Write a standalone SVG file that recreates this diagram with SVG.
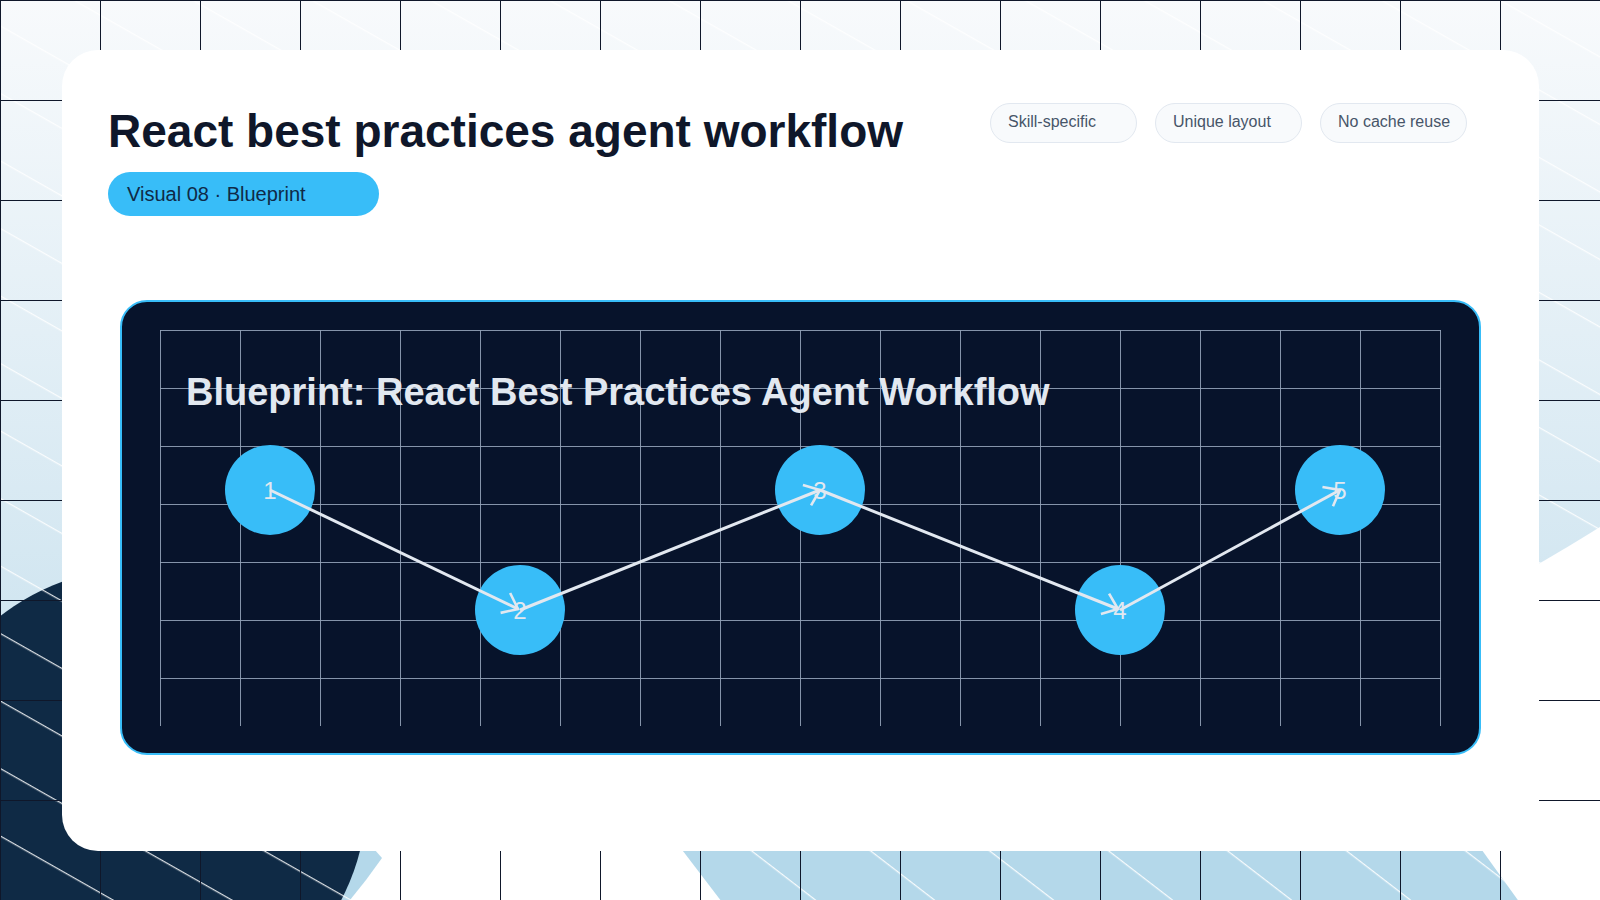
<svg xmlns="http://www.w3.org/2000/svg" width="1600" height="900" viewBox="0 0 1600 900">
  <defs>
    <linearGradient id="bgGrad" gradientUnits="userSpaceOnUse" x1="0" y1="0" x2="0" y2="820">
      <stop offset="0" stop-color="#f8fafc"/>
      <stop offset="1" stop-color="#c4dfed"/>
    </linearGradient>
    <pattern id="diag" patternUnits="userSpaceOnUse" width="200" height="58.7" patternTransform="translate(0,25) rotate(29.6)">
      <line x1="0" y1="0.6" x2="200" y2="0.6" stroke="#ffffff" stroke-width="1.2" stroke-opacity="0.85"/>
    </pattern>
    <pattern id="diag2" patternUnits="userSpaceOnUse" width="200" height="72.6" patternTransform="translate(752.8,851) rotate(37.6)">
      <line x1="0" y1="0.6" x2="200" y2="0.6" stroke="#ffffff" stroke-width="1.2" stroke-opacity="0.9"/>
    </pattern>
    <marker id="chev" markerUnits="userSpaceOnUse" viewBox="-17 -14 20 28" markerWidth="20" markerHeight="28" refX="0" refY="0" orient="auto">
      <path d="M-14,-11 L0,0 L-14,11" fill="none" stroke="#e2e8f0" stroke-width="2.6"/>
    </marker>
    <style>
      .bggrid { stroke: #0f172a; stroke-width: 1; fill: none; }
      .ingrid { stroke: #94a3b8; stroke-width: 1; stroke-opacity: 0.9; fill: none; }
      .tag rect { fill: #f8fafc; stroke: #e2e8f0; stroke-width: 1; }
      .tag text { font-family: "Liberation Sans", Arial, sans-serif; font-size: 16px; fill: #475569; }
      .node circle { fill: #38bdf8; }
      .node text { font-family: "Liberation Sans", Arial, sans-serif; font-size: 24px; fill: #e2e8f0; text-anchor: middle; }
      .edge { stroke: #e2e8f0; stroke-width: 3; fill: none; marker-end: url(#chev); }
    </style>
  </defs>

  <!-- background -->
  <rect x="0" y="0" width="1600" height="900" fill="#ffffff"/>
  <circle cx="540" cy="-1169" r="2000" fill="url(#bgGrad)"/>
  <path d="M330,840 L366,840 L382,858 L366,880 L350,900 L330,900 Z" fill="#b4d8ea"/>
  <circle cx="140" cy="795" r="227" fill="#0f2a45"/>
  <rect x="0" y="0" width="1600" height="900" fill="url(#diag)"/>
  <polygon points="644,800 1446,800 1525,910 728,910" fill="#b4d8ea"/>
  <polygon points="644,800 1446,800 1525,910 728,910" fill="url(#diag2)"/>
  <path class="bggrid" d="M0.5,0V900M100.5,0V900M200.5,0V900M300.5,0V900M400.5,0V900M500.5,0V900M600.5,0V900M700.5,0V900M800.5,0V900M900.5,0V900M1000.5,0V900M1100.5,0V900M1200.5,0V900M1300.5,0V900M1400.5,0V900M1500.5,0V900M0,0.5H1600M0,100.5H1600M0,200.5H1600M0,300.5H1600M0,400.5H1600M0,500.5H1600M0,600.5H1600M0,700.5H1600M0,800.5H1600"/>

  <!-- card -->
  <rect x="62" y="50" width="1477" height="801" rx="36" fill="#ffffff"/>

  <text x="108" y="147" font-family="Liberation Sans, Arial, sans-serif" font-size="46" font-weight="bold" fill="#0f172a">React best practices agent workflow</text>

  <g id="badge">
    <rect x="108" y="172" width="271" height="44" rx="22" fill="#38bdf8"/>
    <text x="127" y="201" font-family="Liberation Sans, Arial, sans-serif" font-size="20" fill="#0f2a47">Visual 08 · Blueprint</text>
  </g>

  <g id="tag-skill" class="tag">
    <rect x="990.5" y="103.5" width="146" height="39" rx="19.5"/>
    <text x="1008" y="127">Skill-specific</text>
  </g>
  <g id="tag-layout" class="tag">
    <rect x="1155.5" y="103.5" width="146" height="39" rx="19.5"/>
    <text x="1173" y="127">Unique layout</text>
  </g>
  <g id="tag-cache" class="tag">
    <rect x="1320.5" y="103.5" width="146" height="39" rx="19.5"/>
    <text x="1338" y="127">No cache reuse</text>
  </g>

  <!-- blueprint panel -->
  <g id="panel">
    <rect x="121" y="301" width="1359" height="453" rx="26" fill="#07132b" stroke="#38bdf8" stroke-width="2"/>
    <path class="ingrid" d="M160.5,330V726M240.5,330V726M320.5,330V726M400.5,330V726M480.5,330V726M560.5,330V726M640.5,330V726M720.5,330V726M800.5,330V726M880.5,330V726M960.5,330V726M1040.5,330V726M1120.5,330V726M1200.5,330V726M1280.5,330V726M1360.5,330V726M1440.5,330V726M160,330.5H1441M160,388.5H1441M160,446.5H1441M160,504.5H1441M160,562.5H1441M160,620.5H1441M160,678.5H1441"/>
    <text x="186" y="405" font-family="Liberation Sans, Arial, sans-serif" font-size="38" font-weight="bold" fill="#e2e8f0">Blueprint: React Best Practices Agent Workflow</text>
  </g>

  <g id="node-1" class="node">
    <circle cx="270" cy="490" r="45"/>
    <text x="270" y="499">1</text>
  </g>
  <g id="node-2" class="node">
    <circle cx="520" cy="610" r="45"/>
    <text x="520" y="619">2</text>
  </g>
  <g id="node-3" class="node">
    <circle cx="820" cy="490" r="45"/>
    <text x="820" y="499">3</text>
  </g>
  <g id="node-4" class="node">
    <circle cx="1120" cy="610" r="45"/>
    <text x="1120" y="619">4</text>
  </g>
  <g id="node-5" class="node">
    <circle cx="1340" cy="490" r="45"/>
    <text x="1340" y="499">5</text>
  </g>

  <g id="connectors">
    <line class="edge" x1="270" y1="490" x2="518" y2="609"/>
    <line class="edge" x1="520" y1="610" x2="820" y2="490"/>
    <line class="edge" x1="820" y1="490" x2="1118" y2="609"/>
    <line class="edge" x1="1120" y1="610" x2="1340" y2="490"/>
  </g>
</svg>
